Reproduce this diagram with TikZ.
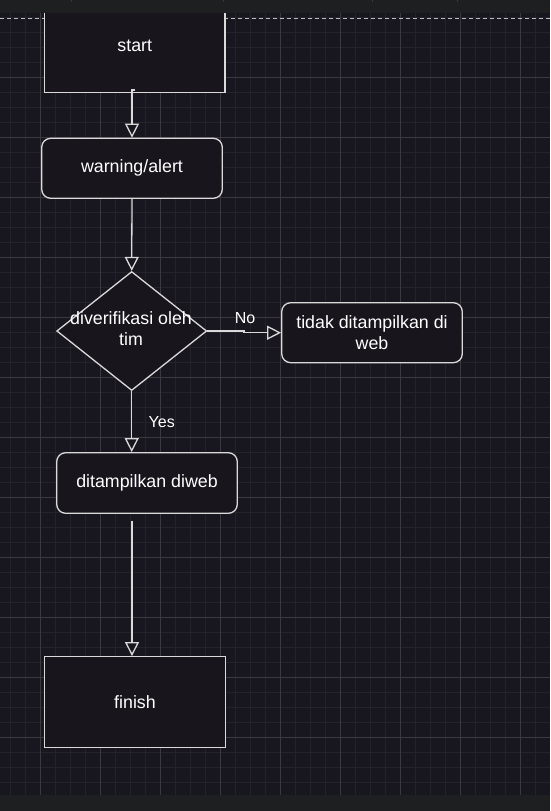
\documentclass[tikz,border=0pt]{standalone}
\usepackage{fontspec}
\setmainfont{Liberation Sans}
\usetikzlibrary{shapes.geometric,arrows.meta}
\definecolor{bg}{HTML}{18161E}
\definecolor{nodefill}{HTML}{18151D}
\definecolor{gridminor}{HTML}{24232A}
\definecolor{gridmajor}{HTML}{3A393F}
\definecolor{band}{HTML}{1E1F21}
\definecolor{stroke}{HTML}{DADADA}
\definecolor{dashc}{HTML}{BDBDBD}
\tikzset{
 box/.style={draw=stroke, line width=1.3pt, fill=nodefill, inner sep=0pt, text=white, font=\fontsize{17.8}{21.5}\selectfont, align=center},
 sqbox/.style={box, rectangle},
 rbox/.style={box, rectangle, rounded corners=9pt},
 decision/.style={box, diamond, minimum width=150pt, minimum height=119pt},
 lbl/.style={text=white, font=\fontsize{17.8}{21.5}\selectfont, inner sep=0pt, align=center},
 edgelbl/.style={text=white, font=\fontsize{16}{19}\selectfont, inner sep=0pt},
 conn/.style={draw=stroke, line width=1.3pt, -{Triangle[length=14pt,width=14pt,fill=bg]}},
}
\begin{document}
\begin{tikzpicture}[x=1pt,y=-1pt]
\useasboundingbox (0,0) rectangle (550,811);
\fill[bg] (0,0) rectangle (550,811);
% grid
\foreach \x in {10.7,25.7,...,550} \draw[gridminor, line width=1pt] (\x,13) -- (\x,795);
\foreach \y in {17.3,32.3,...,795} \draw[gridminor, line width=1pt] (0,\y) -- (550,\y);
\foreach \x in {40.7,100.7,...,550} \draw[gridmajor, line width=1pt] (\x,13) -- (\x,795);
\foreach \y in {77.3,137.3,...,795} \draw[gridmajor, line width=1pt] (0,\y) -- (550,\y);
\draw[dashc, line width=1pt, dash pattern=on 4pt off 3pt] (0,18) -- (550,18);
% nodes
\node[sqbox, minimum width=180.5pt, minimum height=93.4pt] (start) at (134.75,46) {start};
\node[rbox, minimum width=180.6pt, minimum height=60pt] (warn) at (132,168.3) {warning/alert};
\node[decision] (dec) at (131.7,331) {};
\node[lbl] (dect) at (131,328.5) {diverifikasi oleh\\tim};
\node[rbox, minimum width=180.6pt, minimum height=60pt] (tidak) at (372,332.7) {tidak ditampilkan di\\web};
\node[rbox, minimum width=180.6pt, minimum height=60.6pt] (show) at (147,483) {ditampilkan diweb};
\node[sqbox, minimum width=180.6pt, minimum height=90.6pt] (finish) at (135,702) {finish};
% connectors
\coordinate (sout) at (135,90);
\draw[conn] (sout) -- (132,90) -- (warn.north);
\draw[conn] (warn.south) -- (dec.north);
\draw[conn] (dec.east) -- (244,331) -- (244,332.7) -- (tidak.west);
\node[edgelbl] (nolbl) at (245,317.7) {No};
\draw[conn] (dec.south) -- (dec.south |- show.north);
\node[edgelbl] (yeslbl) at (161.7,422.3) {Yes};
\coordinate (sh2) at (132,520.7);
\draw[conn] (sh2) -- (sh2 |- finish.north);
% bands
\fill[band] (0,0) rectangle (550,13.3);
\fill[band] (0,795) rectangle (550,811);
\foreach \x in {71.6,223,372.6,457} \draw[gridmajor, line width=1pt] (\x,0) -- (\x,2);
\end{tikzpicture}
\end{document}
